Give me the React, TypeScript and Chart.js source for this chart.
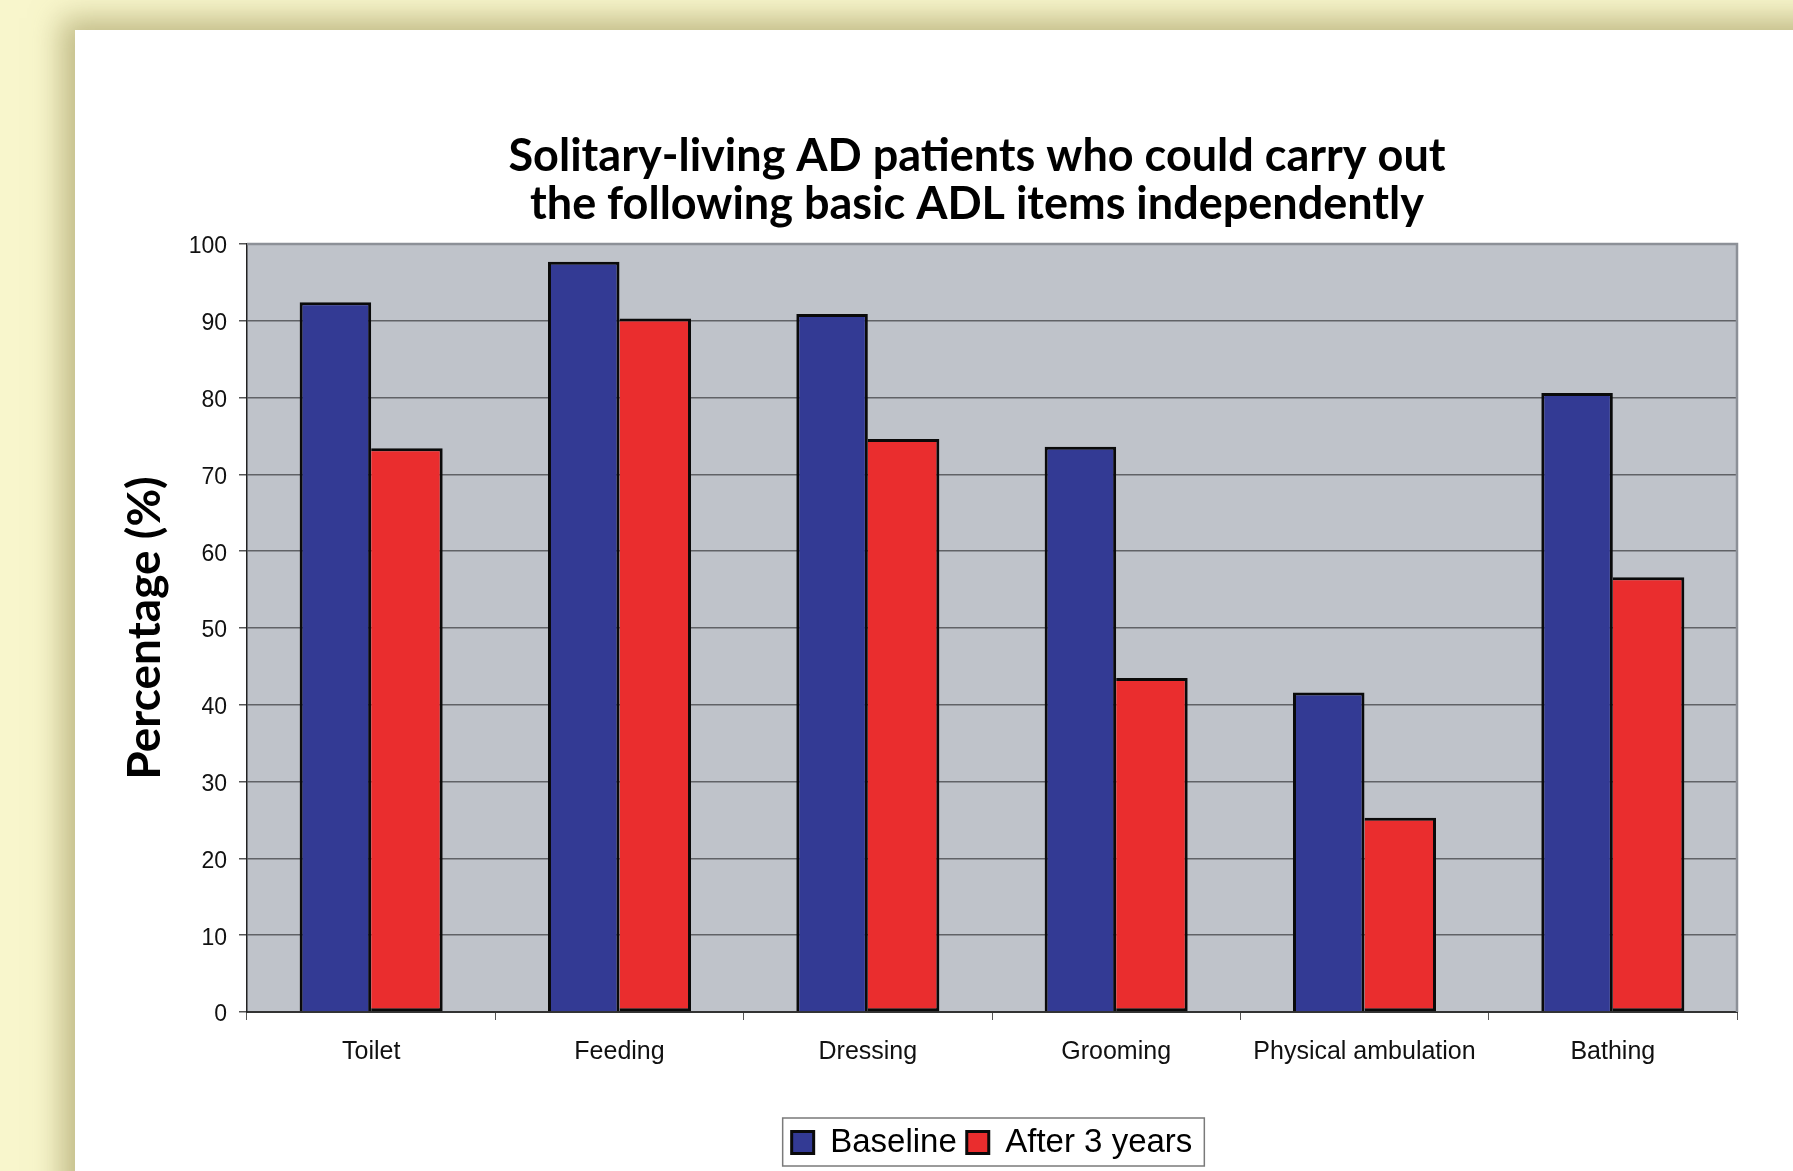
import React, { useEffect, useRef } from 'react';
import { Chart, registerables } from 'chart.js';

Chart.register(...registerables);

const TITLE_LINES = [
  'Solitary-living AD patients who could carry out',
  'the following basic ADL items independently',
];
const Y_TITLE = 'Percentage (%)';
const CATEGORIES = ['Toilet', 'Feeding', 'Dressing', 'Grooming', 'Physical ambulation', 'Bathing'];
const SERIES_NAMES = ['Baseline', 'After 3 years'];
const BASELINE = [92.4, 97.7, 90.9, 73.6, 41.6, 80.6];
const AFTER_3_YEARS = [73.4, 90.3, 74.6, 43.5, 25.3, 56.6];
const Y_MIN = 0;
const Y_MAX = 100;
const Y_STEP = 10;

const W = 1793;
const H = 1171;

const plotFrame = {
  id: 'plotFrame',
  beforeDraw(chart: any) {
    const { ctx, chartArea: a } = chart;
    ctx.save();
    ctx.fillStyle = '#BFC3CA';
    ctx.fillRect(a.left, a.top, a.right - a.left, a.bottom - a.top);
    ctx.restore();
  },
  afterDatasetsDraw(chart: any) {
    const { ctx, chartArea: a } = chart;
    ctx.save();
    ctx.strokeStyle = '#8c9097';
    ctx.lineWidth = 2.5;
    ctx.beginPath();
    ctx.moveTo(a.left, a.top);
    ctx.lineTo(a.right, a.top);
    ctx.lineTo(a.right, a.bottom);
    ctx.stroke();
    ctx.restore();
  },
};

const legendFrame = {
  id: 'legendFrame',
  afterDraw(chart: any) {
    const lg = chart.legend;
    const hb = lg && lg.legendHitBoxes;
    if (!hb || !hb.length) return;
    const first = hb[0];
    const last = hb[hb.length - 1];
    const left = first.left - 9;
    const right = last.left + last.width + 12;
    const cy = first.top + first.height / 2;
    const { ctx } = chart;
    ctx.save();
    ctx.strokeStyle = '#7a7a7a';
    ctx.lineWidth = 1.5;
    ctx.strokeRect(left, cy - 24.5, right - left, 48);
    ctx.restore();
  },
};

export default function App() {
  const ref = useRef<HTMLCanvasElement>(null);

  useEffect(() => {
    if (!ref.current) return;
    const chart = new Chart(ref.current, {
      type: 'bar',
      data: {
        labels: CATEGORIES,
        datasets: [
          {
            label: SERIES_NAMES[0],
            data: BASELINE,
            backgroundColor: '#333A94',
            borderColor: '#0a0a0a',
            borderWidth: 3,
            borderSkipped: 'start',
            categoryPercentage: 0.576,
            barPercentage: 1,
          },
          {
            label: SERIES_NAMES[1],
            data: AFTER_3_YEARS,
            backgroundColor: '#EA2D2E',
            borderColor: '#0a0a0a',
            borderWidth: 3,
            borderSkipped: 'left',
            categoryPercentage: 0.576,
            barPercentage: 1,
          },
        ],
      },
      options: {
        responsive: false,
        animation: false,
        devicePixelRatio: 1,
        layout: { padding: { left: 170, right: 9, top: 0, bottom: 2 } },
        plugins: {
          title: {
            display: true,
            text: TITLE_LINES,
            color: '#000',
            font: { family: 'Lato', size: 45, weight: 'bold', lineHeight: 48 / 45 },
            padding: { top: 132, bottom: 16 },
          },
          legend: {
            position: 'bottom',
            fullSize: false,
            labels: {
              boxWidth: 22,
              boxHeight: 22,
              padding: 10,
              color: '#000',
              font: { family: 'Liberation Sans', size: 33 },
            },
          },
          tooltip: { enabled: false },
        },
        scales: {
          x: {
            grid: {
              display: true,
              drawOnChartArea: false,
              drawTicks: true,
              tickLength: 8,
              tickColor: '#555',
              offset: true,
            },
            border: { display: true, color: '#333', width: 2 },
            ticks: {
              color: '#111',
              font: { family: 'Liberation Sans', size: 25 },
              padding: 17,
              maxRotation: 0,
              autoSkip: false,
            },
            afterFit: (s: any) => {
              s.height = 104;
            },
          },
          y: {
            min: Y_MIN,
            max: Y_MAX,
            ticks: {
              stepSize: Y_STEP,
              color: '#111',
              font: { family: 'Liberation Sans', size: 23 },
              padding: 12,
              labelOffset: 3,
            },
            grid: { color: '#606266', lineWidth: 1.5, tickLength: 8, tickColor: '#555' },
            border: { color: '#222', width: 1.5 },
            title: {
              display: true,
              text: Y_TITLE,
              color: '#000',
              font: { family: 'Lato', size: 46, weight: 'bold', lineHeight: 1 },
              padding: { top: -48, bottom: 0 },
            },
            afterFit: (s: any) => {
              s.width = 77;
            },
          },
          yRightSpacer: {
            type: 'linear',
            position: 'right',
            display: true,
            min: Y_MIN,
            max: Y_MAX,
            grid: { display: false },
            border: { display: false },
            ticks: { display: false },
            afterFit: (s: any) => {
              s.width = 47;
            },
          },
        },
      },
      plugins: [plotFrame, legendFrame],
    } as any);
    return () => chart.destroy();
  }, []);

  return (
    <div
      style={{
        position: 'fixed',
        left: 0,
        top: 0,
        width: W,
        height: H,
        overflow: 'hidden',
        background: '#F8F6CC',
      }}
    >
      <div
        style={{
          position: 'absolute',
          left: 75,
          top: 30,
          width: 1800,
          height: 1200,
          background: '#ffffff',
          boxShadow: '-8px -6px 28px 6px rgba(150,140,80,0.55)',
        }}
      />
      <canvas
        ref={ref}
        width={W}
        height={H}
        style={{ position: 'absolute', left: 0, top: 0, width: W, height: H }}
      />
    </div>
  );
}
